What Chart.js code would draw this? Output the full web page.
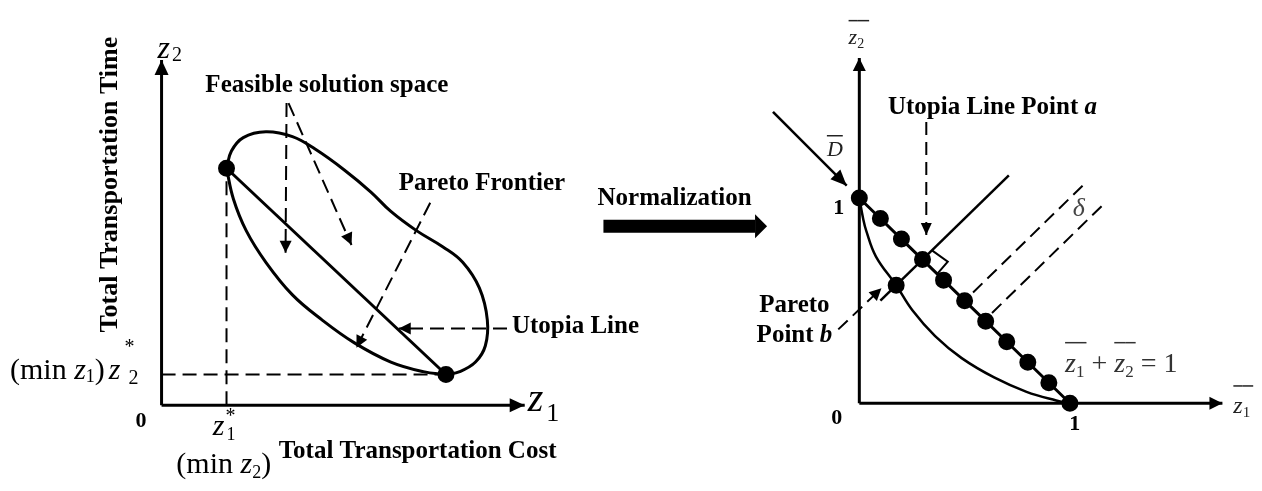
<!DOCTYPE html>
<html>
<head>
<meta charset="utf-8">
<script src="https://cdn.jsdelivr.net/npm/chart.js@4.4.1/dist/chart.umd.min.js"></script>
<style>
  html, body { margin: 0; padding: 0; background: #fff; }
  #wrap { width: 1262px; height: 491px; }
</style>
</head>
<body>
<div id="wrap"><canvas id="paretoChart" width="1262" height="491"></canvas></div>
<script>
// ---- left panel: objective space (z1 cost, z2 time) ----
const feasibleX = [0.66, 0.71, 0.83, 1.06, 1.33, 1.56, 1.86, 2.13, 2.33, 2.59, 2.86, 3.06, 3.23, 3.31, 3.29, 3.19, 3.03, 2.89];
const feasibleY = [2.47, 2.65, 2.79, 2.85, 2.80, 2.67, 2.45, 2.22, 2.02, 1.82, 1.65, 1.49, 1.22, 0.89, 0.62, 0.45, 0.35, 0.32];
const frontierX = [0.66, 0.73, 0.86, 1.06, 1.33, 1.63, 1.96, 2.33, 2.66, 2.89];
const frontierY = [2.47, 2.15, 1.82, 1.49, 1.15, 0.89, 0.65, 0.45, 0.35, 0.32];
const anchorX   = [0.66, 2.89];     // z1* , z1 at min z2
const anchorY   = [2.47, 0.32];     // z2 at min z1 , z2*

const axisLX = [0, 3.69], axisLY = [0, 3.60];
const guideVX = [0.66, 0.66], guideVY = [0, 2.47];
const guideHX = [0, 2.89],    guideHY = [0.32, 0.32];
const pointer1X = [1.27, 1.26], pointer1Y = [3.15, 1.59];   // feasible space
const pointer2X = [1.29, 1.93], pointer2Y = [3.15, 1.67];
const pointer3X = [2.73, 1.98], pointer3Y = [2.11, 0.60];   // pareto frontier
const pointer4X = [3.51, 2.41], pointer4Y = [0.80, 0.80];   // utopia line

// ---- right panel: normalized space ----
const utopiaX = [0, 0.1, 0.2, 0.3, 0.4, 0.5, 0.6, 0.7, 0.8, 0.9, 1.0];
const utopiaY = [1.0, 0.9, 0.8, 0.7, 0.6, 0.5, 0.4, 0.3, 0.2, 0.1, 0];
const normFrontX = [0, 0.018, 0.033, 0.079, 0.175, 0.252, 0.36, 0.486, 0.64, 0.794, 0.935, 1.0];
const normFrontY = [1.0, 0.90, 0.84, 0.715, 0.575, 0.453, 0.327, 0.22, 0.126, 0.056, 0.014, 0];
const pointBX = [0.175], pointBY = [0.575];
const normalX = [0.10, 0.71], normalY = [0.50, 1.11];
const rightAngleX = [0.345, 0.42, 0.37], rightAngleY = [0.745, 0.69, 0.63];
const delta1X = [0.54, 1.06], delta1Y = [0.54, 1.06];
const delta2X = [0.63, 1.16], delta2Y = [0.44, 0.97];
const axisRX = [0, 1.724], axisRY = [0, 1.682];
const dArrowX = [-0.41, -0.06], dArrowY = [1.42, 1.06];
const aArrowX = [0.318, 0.318], aArrowY = [1.37, 0.82];
const bArrowX = [-0.10, 0.105], bArrowY = [0.36, 0.56];
const normArrowX = [-1.215, -0.495], normArrowY = [0.862, 0.862];

const SERIF = '"Liberation Serif", "Times New Roman", serif';
const B = n => `bold ${n}px ${SERIF}`;
const BI = n => `italic bold ${n}px ${SERIF}`;
const I = n => `italic ${n}px ${SERIF}`;
const R = n => `${n}px ${SERIF}`;

const pts = (xs, ys) => xs.map((x, i) => ({ x: x, y: ys[i] }));

function line(xs, ys, opts) {
  return Object.assign({
    data: pts(xs, ys), showLine: true, borderColor: '#000', backgroundColor: '#000',
    borderWidth: 3, pointRadius: 0, pointHoverRadius: 0, tension: 0,
    xAxisID: 'x', yAxisID: 'y'
  }, opts);
}
const R_AX = { xAxisID: 'xn', yAxisID: 'yn' };
const DASH = [14, 7];

const datasets = [
  // dots on top
  line(anchorX, anchorY, { showLine: false, pointRadius: 7 }),
  line(utopiaX, utopiaY, Object.assign({ pointRadius: 7, borderWidth: 3 }, R_AX)),
  line(pointBX, pointBY, Object.assign({ showLine: false, pointRadius: 7 }, R_AX)),

  // left panel
  line(axisLX, [0, 0], { arrow: { len: 15, half: 7 } }),
  line([0, 0], axisLY, { arrow: { len: 15, half: 7 } }),
  line(feasibleX, feasibleY, { tension: 0.4 }),
  line(frontierX, frontierY, { tension: 0.4 }),
  line(anchorX, anchorY),
  line(guideVX, guideVY, { borderWidth: 2, borderDash: DASH }),
  line(guideHX, guideHY, { borderWidth: 2, borderDash: DASH }),
  line(pointer1X, pointer1Y, { borderWidth: 2, borderDash: DASH, arrow: { len: 12, half: 6 } }),
  line(pointer2X, pointer2Y, { borderWidth: 2, borderDash: DASH, arrow: { len: 12, half: 6 } }),
  line(pointer3X, pointer3Y, { borderWidth: 2, borderDash: DASH, arrow: { len: 12, half: 6 } }),
  line(pointer4X, pointer4Y, { borderWidth: 2, borderDash: DASH, arrow: { len: 12, half: 6 } }),

  // normalization arrow
  line(normArrowX, normArrowY, Object.assign({ borderWidth: 13, arrow: { len: 12, half: 12, base: true } }, R_AX)),

  // right panel
  line(axisRX, [0, 0], Object.assign({ arrow: { len: 13, half: 6.5 } }, R_AX)),
  line([0, 0], axisRY, Object.assign({ arrow: { len: 13, half: 6.5 } }, R_AX)),
  line(normFrontX, normFrontY, Object.assign({ tension: 0.4, borderWidth: 2.5 }, R_AX)),
  line(normalX, normalY, Object.assign({ borderWidth: 2.5 }, R_AX)),
  line(rightAngleX, rightAngleY, Object.assign({ borderWidth: 2 }, R_AX)),
  line(delta1X, delta1Y, Object.assign({ borderWidth: 2, borderDash: [13, 7] }, R_AX)),
  line(delta2X, delta2Y, Object.assign({ borderWidth: 2, borderDash: [13, 7] }, R_AX)),
  line(dArrowX, dArrowY, Object.assign({ borderWidth: 2.5, arrow: { len: 16, half: 7 } }, R_AX)),
  line(aArrowX, aArrowY, Object.assign({ borderWidth: 2, borderDash: [13, 7], arrow: { len: 12, half: 5.5 } }, R_AX)),
  line(bArrowX, bArrowY, Object.assign({ borderWidth: 2, borderDash: [13, 7], arrow: { len: 12, half: 6 } }, R_AX))
];

// text labels (p: which panel's scales the position uses)
const labels = [
  { p: 'L', x: 1.68, y: 3.27, align: 'center', runs: [{ t: 'Feasible solution space', f: B(25) }] },
  { p: 'L', x: 2.41, y: 2.24, runs: [{ t: 'Pareto Frontier', f: B(25) }] },
  { p: 'L', x: 3.56, y: 0.75, runs: [{ t: 'Utopia Line', f: B(25) }] },
  { p: 'L', x: -0.45, y: 2.30, align: 'center', rot: -Math.PI / 2, runs: [{ t: 'Total Transportation Time', f: B(26) }] },
  { p: 'L', x: 1.19, y: -0.55, runs: [{ t: 'Total Transportation Cost', f: B(25) }] },
  { p: 'L', x: -0.21, y: -0.23, align: 'center', runs: [{ t: '0', f: B(22) }] },
  { p: 'L', x: -1.54, y: 0.27, runs: [
    { t: '(min ', f: R(30) }, { t: 'z', f: I(30) }, { t: '1', f: R(18), dy: 3 }, { t: ')', f: R(30) },
    { t: 'z', f: I(30), dx: 4 }, { t: '*', f: R(20), dx: 4, dy: -26, adv: false }, { t: '2', f: R(20), dx: 4, dy: 5 }] },
  { p: 'L', x: 0.52, y: -0.31, runs: [
    { t: 'z', f: I(30) }, { t: '*', f: R(20), dx: 1, dy: -13, adv: false }, { t: '1', f: R(18), dx: 1, dy: 5 }] },
  { p: 'L', x: 0.15, y: -0.71, runs: [
    { t: '(min ', f: R(30) }, { t: 'z', f: I(30) }, { t: '2', f: R(18), dy: 5 }, { t: ')', f: R(30) }] },
  { p: 'L', x: -0.04, y: 3.62, runs: [{ t: 'z', f: I(32) }, { t: '2', f: R(20), dx: 2, dy: 3 }] },
  { p: 'L', x: 3.72, y: -0.06, runs: [{ t: 'z', f: I(40) }, { t: '1', f: R(26), dx: 3, dy: 10 }] },

  { p: 'R', x: -1.243, y: 0.967, runs: [{ t: 'Normalization', f: B(25) }] },
  { p: 'R', x: 0.136, y: 1.407, runs: [{ t: 'Utopia Line Point ', f: B(25) }, { t: 'a', f: BI(25) }] },
  { p: 'R', x: -0.308, y: 0.444, align: 'center', runs: [{ t: 'Pareto', f: B(25) }] },
  { p: 'R', x: -0.308, y: 0.299, align: 'center', runs: [{ t: 'Point ', f: B(25) }, { t: 'b', f: BI(25) }] },
  { p: 'R', x: -0.154, y: 1.206, color: '#222', runs: [{ t: 'D', f: I(22), ol: 20 }] },
  { p: 'R', x: -0.098, y: 0.921, align: 'center', runs: [{ t: '1', f: B(22) }] },
  { p: 'R', x: -0.107, y: -0.103, align: 'center', runs: [{ t: '0', f: B(22) }] },
  { p: 'R', x: 1.023, y: -0.131, align: 'center', runs: [{ t: '1', f: B(22) }] },
  { p: 'R', x: -0.051, y: 1.752, color: '#222', runs: [{ t: 'z', f: I(22), ol: 23 }, { t: '2', f: R(14), dy: 4, ol: 23, olx: 5 }] },
  { p: 'R', x: 1.776, y: -0.047, color: '#222', runs: [{ t: 'z', f: I(24), ol: 27 }, { t: '1', f: R(15), dy: 4, ol: 27, olx: 3 }] },
  { p: 'R', x: 0.977, y: 0.154, color: '#333', runs: [
    { t: 'z', f: I(28), ol: 29 }, { t: '1', f: R(17), dy: 5, ol: 29, olx: 2 }, { t: ' + ', f: R(28) },
    { t: 'z', f: I(28), ol: 29 }, { t: '2', f: R(17), dy: 5, ol: 29, olx: 2 }, { t: ' = 1', f: R(28) }] },
  { p: 'R', x: 1.042, y: 0.911, align: 'center', color: '#444', runs: [{ t: '\u03b4', f: I(26) }] }
];

// arrowheads at the end of flagged lines
const arrowPlugin = {
  id: 'arrowHeads',
  afterDatasetsDraw(chart) {
    const ctx = chart.ctx;
    chart.data.datasets.forEach((ds, i) => {
      if (!ds.arrow) return;
      const els = chart.getDatasetMeta(i).data;
      const p1 = els[els.length - 2], p2 = els[els.length - 1];
      const ang = Math.atan2(p2.y - p1.y, p2.x - p1.x);
      const a = ds.arrow;
      ctx.save();
      ctx.translate(p2.x, p2.y);
      ctx.rotate(ang);
      if (a.base) ctx.translate(a.len, 0);
      ctx.fillStyle = ds.borderColor;
      ctx.beginPath();
      ctx.moveTo(0, 0);
      ctx.lineTo(-a.len, -a.half);
      ctx.lineTo(-a.len, a.half);
      ctx.closePath();
      ctx.fill();
      ctx.restore();
    });
  }
};

// rich text labels placed through the scales
const textPlugin = {
  id: 'richLabels',
  afterDraw(chart) {
    const ctx = chart.ctx;
    labels.forEach(lb => {
      const xs = chart.scales[lb.p === 'L' ? 'x' : 'xn'];
      const ys = chart.scales[lb.p === 'L' ? 'y' : 'yn'];
      const px = xs.getPixelForValue(lb.x), py = ys.getPixelForValue(lb.y);
      ctx.save();
      ctx.fillStyle = lb.color || '#000';
      ctx.strokeStyle = lb.color || '#000';
      ctx.textBaseline = 'alphabetic';
      ctx.textAlign = 'left';
      let w = 0;
      lb.runs.forEach(r => {
        ctx.font = r.f;
        w += (r.dx || 0) + (r.adv === false ? 0 : ctx.measureText(r.t).width);
      });
      ctx.translate(px, py);
      if (lb.rot) ctx.rotate(lb.rot);
      let cx = lb.align === 'center' ? -w / 2 : 0;
      lb.runs.forEach(r => {
        ctx.font = r.f;
        cx += r.dx || 0;
        const rw = ctx.measureText(r.t).width;
        ctx.fillText(r.t, cx, r.dy || 0);
        if (r.ol) {
          ctx.lineWidth = 1.5;
          ctx.beginPath();
          ctx.moveTo(cx, -r.ol);
          ctx.lineTo(cx + rw + (r.olx || 0), -r.ol);
          ctx.stroke();
        }
        if (r.adv !== false) cx += rw;
      });
      ctx.restore();
    });
  }
};

new Chart(document.getElementById('paretoChart'), {
  type: 'scatter',
  data: { datasets: datasets },
  options: {
    responsive: false,
    devicePixelRatio: 1,
    animation: false,
    layout: { padding: 0 },
    plugins: { legend: { display: false }, tooltip: { enabled: false } },
    scales: {
      x:  { type: 'linear', display: false, min: -1.54, max: 11.08 },
      y:  { type: 'linear', display: false, min: -0.79, max: 4.12 },
      xn: { type: 'linear', axis: 'x', display: false, min: -4.0327, max: 1.8645 },
      yn: { type: 'linear', axis: 'y', display: false, min: -0.3785, max: 1.9159 }
    }
  },
  plugins: [arrowPlugin, textPlugin]
});
</script>
</body>
</html>
